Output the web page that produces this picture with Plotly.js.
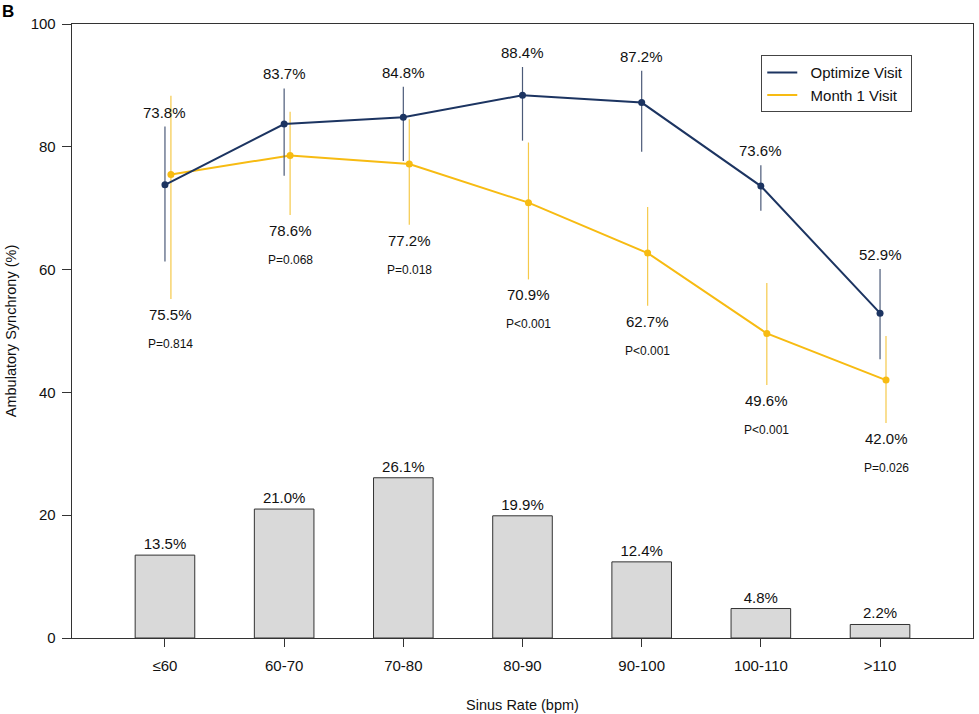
<!DOCTYPE html>
<html>
<head>
<meta charset="utf-8">
<script src="https://cdn.plot.ly/plotly-3.0.1.min.js"></script>
<style>html,body{margin:0;padding:0;background:#fff;}#chart{width:979px;height:714px;}</style>
</head>
<body>
<div id="chart"></div>
<script>
var categories = ["\u226460", "60-70", "70-80", "80-90", "90-100", "100-110", ">110"];
var barValues = [13.5, 21.0, 26.1, 19.9, 12.4, 4.8, 2.2];
var optimizeValues = [73.8, 83.7, 84.8, 88.4, 87.2, 73.6, 52.9];
var optimizePlus = [9.5, 5.8, 5.0, 4.6, 5.2, 3.4, 7.2];
var optimizeMinus = [12.5, 8.4, 7.1, 7.4, 8.0, 4.0, 7.5];
var month1Values = [75.5, 78.6, 77.2, 70.9, 62.7, 49.6, 42.0];
var month1Plus = [12.8, 7.1, 7.3, 9.8, 7.5, 8.2, 7.2];
var month1Minus = [20.3, 9.7, 9.9, 12.5, 8.6, 8.4, 7.0];
var pValues = ["P=0.814", "P=0.068", "P=0.018", "P<0.001", "P<0.001", "P<0.001", "P=0.026"];

var NAVY = "#1c3461";
var GOLD = "#f7bb12";
var FONT = "Liberation Sans, Arial, sans-serif";
var OFF = 0.05;

var idx = categories.map(function (c, i) { return i; });
var idxM1 = idx.map(function (i) { return i + OFF; });

var traces = [
  {
    type: "bar", x: idx, y: barValues, width: 0.5,
    marker: { color: "#d9d9d9", line: { color: "#333333", width: 1 } },
    texttemplate: "%{y:.1f}%", textposition: "outside",
    textfont: { family: FONT, size: 15, color: "#111" },
    cliponaxis: false, showlegend: false, hoverinfo: "skip"
  },
  {
    type: "scatter", mode: "lines+markers", x: idxM1, y: month1Values,
    line: { color: GOLD, width: 2 }, marker: { color: GOLD, size: 7 },
    error_y: { type: "data", symmetric: false, array: month1Plus, arrayminus: month1Minus,
               width: 0, thickness: 1.2, color: "#f5c94a" },
    showlegend: false
  },
  {
    type: "scatter", mode: "lines+markers", x: idx, y: optimizeValues,
    line: { color: NAVY, width: 2 }, marker: { color: NAVY, size: 7 },
    error_y: { type: "data", symmetric: false, array: optimizePlus, arrayminus: optimizeMinus,
               width: 0, thickness: 1.2, color: "#4b5a78" },
    showlegend: false
  },
  { type: "scatter", mode: "lines", x: [null], y: [null], name: "&nbsp;&nbsp;Optimize Visit&nbsp;",
    line: { color: NAVY, width: 2 } },
  { type: "scatter", mode: "lines", x: [null], y: [null], name: "&nbsp;&nbsp;Month 1 Visit&nbsp;",
    line: { color: GOLD, width: 2 } }
];

var annotations = [];
idx.forEach(function (i) {
  annotations.push({
    x: i, y: optimizeValues[i] + optimizePlus[i], xref: "x", yref: "y",
    text: optimizeValues[i].toFixed(1) + "%", showarrow: false,
    yanchor: "bottom", yshift: 4, font: { family: FONT, size: 15, color: "#111" }
  });
  annotations.push({
    x: i + OFF, y: month1Values[i] - month1Minus[i], xref: "x", yref: "y",
    text: month1Values[i].toFixed(1) + "%", showarrow: false,
    yanchor: "top", yshift: -5, font: { family: FONT, size: 15, color: "#111" }
  });
  annotations.push({
    x: i + OFF, y: month1Values[i] - month1Minus[i], xref: "x", yref: "y",
    text: pValues[i], showarrow: false,
    yanchor: "top", yshift: -36, font: { family: FONT, size: 12, color: "#111" }
  });
});
annotations.push({
  x: -0.08, y: 1.039, xref: "paper", yref: "paper", xanchor: "left", yanchor: "top",
  text: "<b>B</b>", showarrow: false, font: { family: FONT, size: 17, color: "#000" }
});

var layout = {
  width: 979, height: 714,
  margin: { l: 72, r: 6, t: 24, b: 76 },
  paper_bgcolor: "#fff", plot_bgcolor: "#fff",
  font: { family: FONT, size: 15, color: "#111" },
  xaxis: {
    range: [-0.78, 6.78], tickmode: "array", tickvals: idx, ticktext: categories,
    showgrid: false, zeroline: false, showline: true, mirror: true,
    linecolor: "#333", linewidth: 1.3, ticks: "outside", ticklen: 8, tickcolor: "#333",
    ticklabelstandoff: 6,
    tickfont: { family: FONT, size: 15, color: "#111" },
    title: { text: "Sinus Rate (bpm)", font: { family: FONT, size: 14.5, color: "#111" }, standoff: 26 }
  },
  yaxis: {
    range: [0, 100], tickvals: [0, 20, 40, 60, 80, 100],
    showgrid: false, zeroline: false, showline: true, mirror: true,
    linecolor: "#333", linewidth: 1.3, ticks: "outside", ticklen: 9, tickcolor: "#333",
    ticklabelstandoff: 3,
    tickfont: { family: FONT, size: 15, color: "#111" },
    title: { text: "Ambulatory Synchrony (%)", font: { family: FONT, size: 14.5, color: "#111" }, standoff: 10 }
  },
  legend: {
    x: 0.765, y: 0.949, xanchor: "left", yanchor: "top",
    bgcolor: "#fff", bordercolor: "#444", borderwidth: 1,
    font: { family: FONT, size: 15, color: "#111" }
  },
  annotations: annotations,
  showlegend: true,
  bargap: 0.5
};

Plotly.newPlot("chart", traces, layout, { displayModeBar: false, staticPlot: true });
</script>
</body>
</html>
